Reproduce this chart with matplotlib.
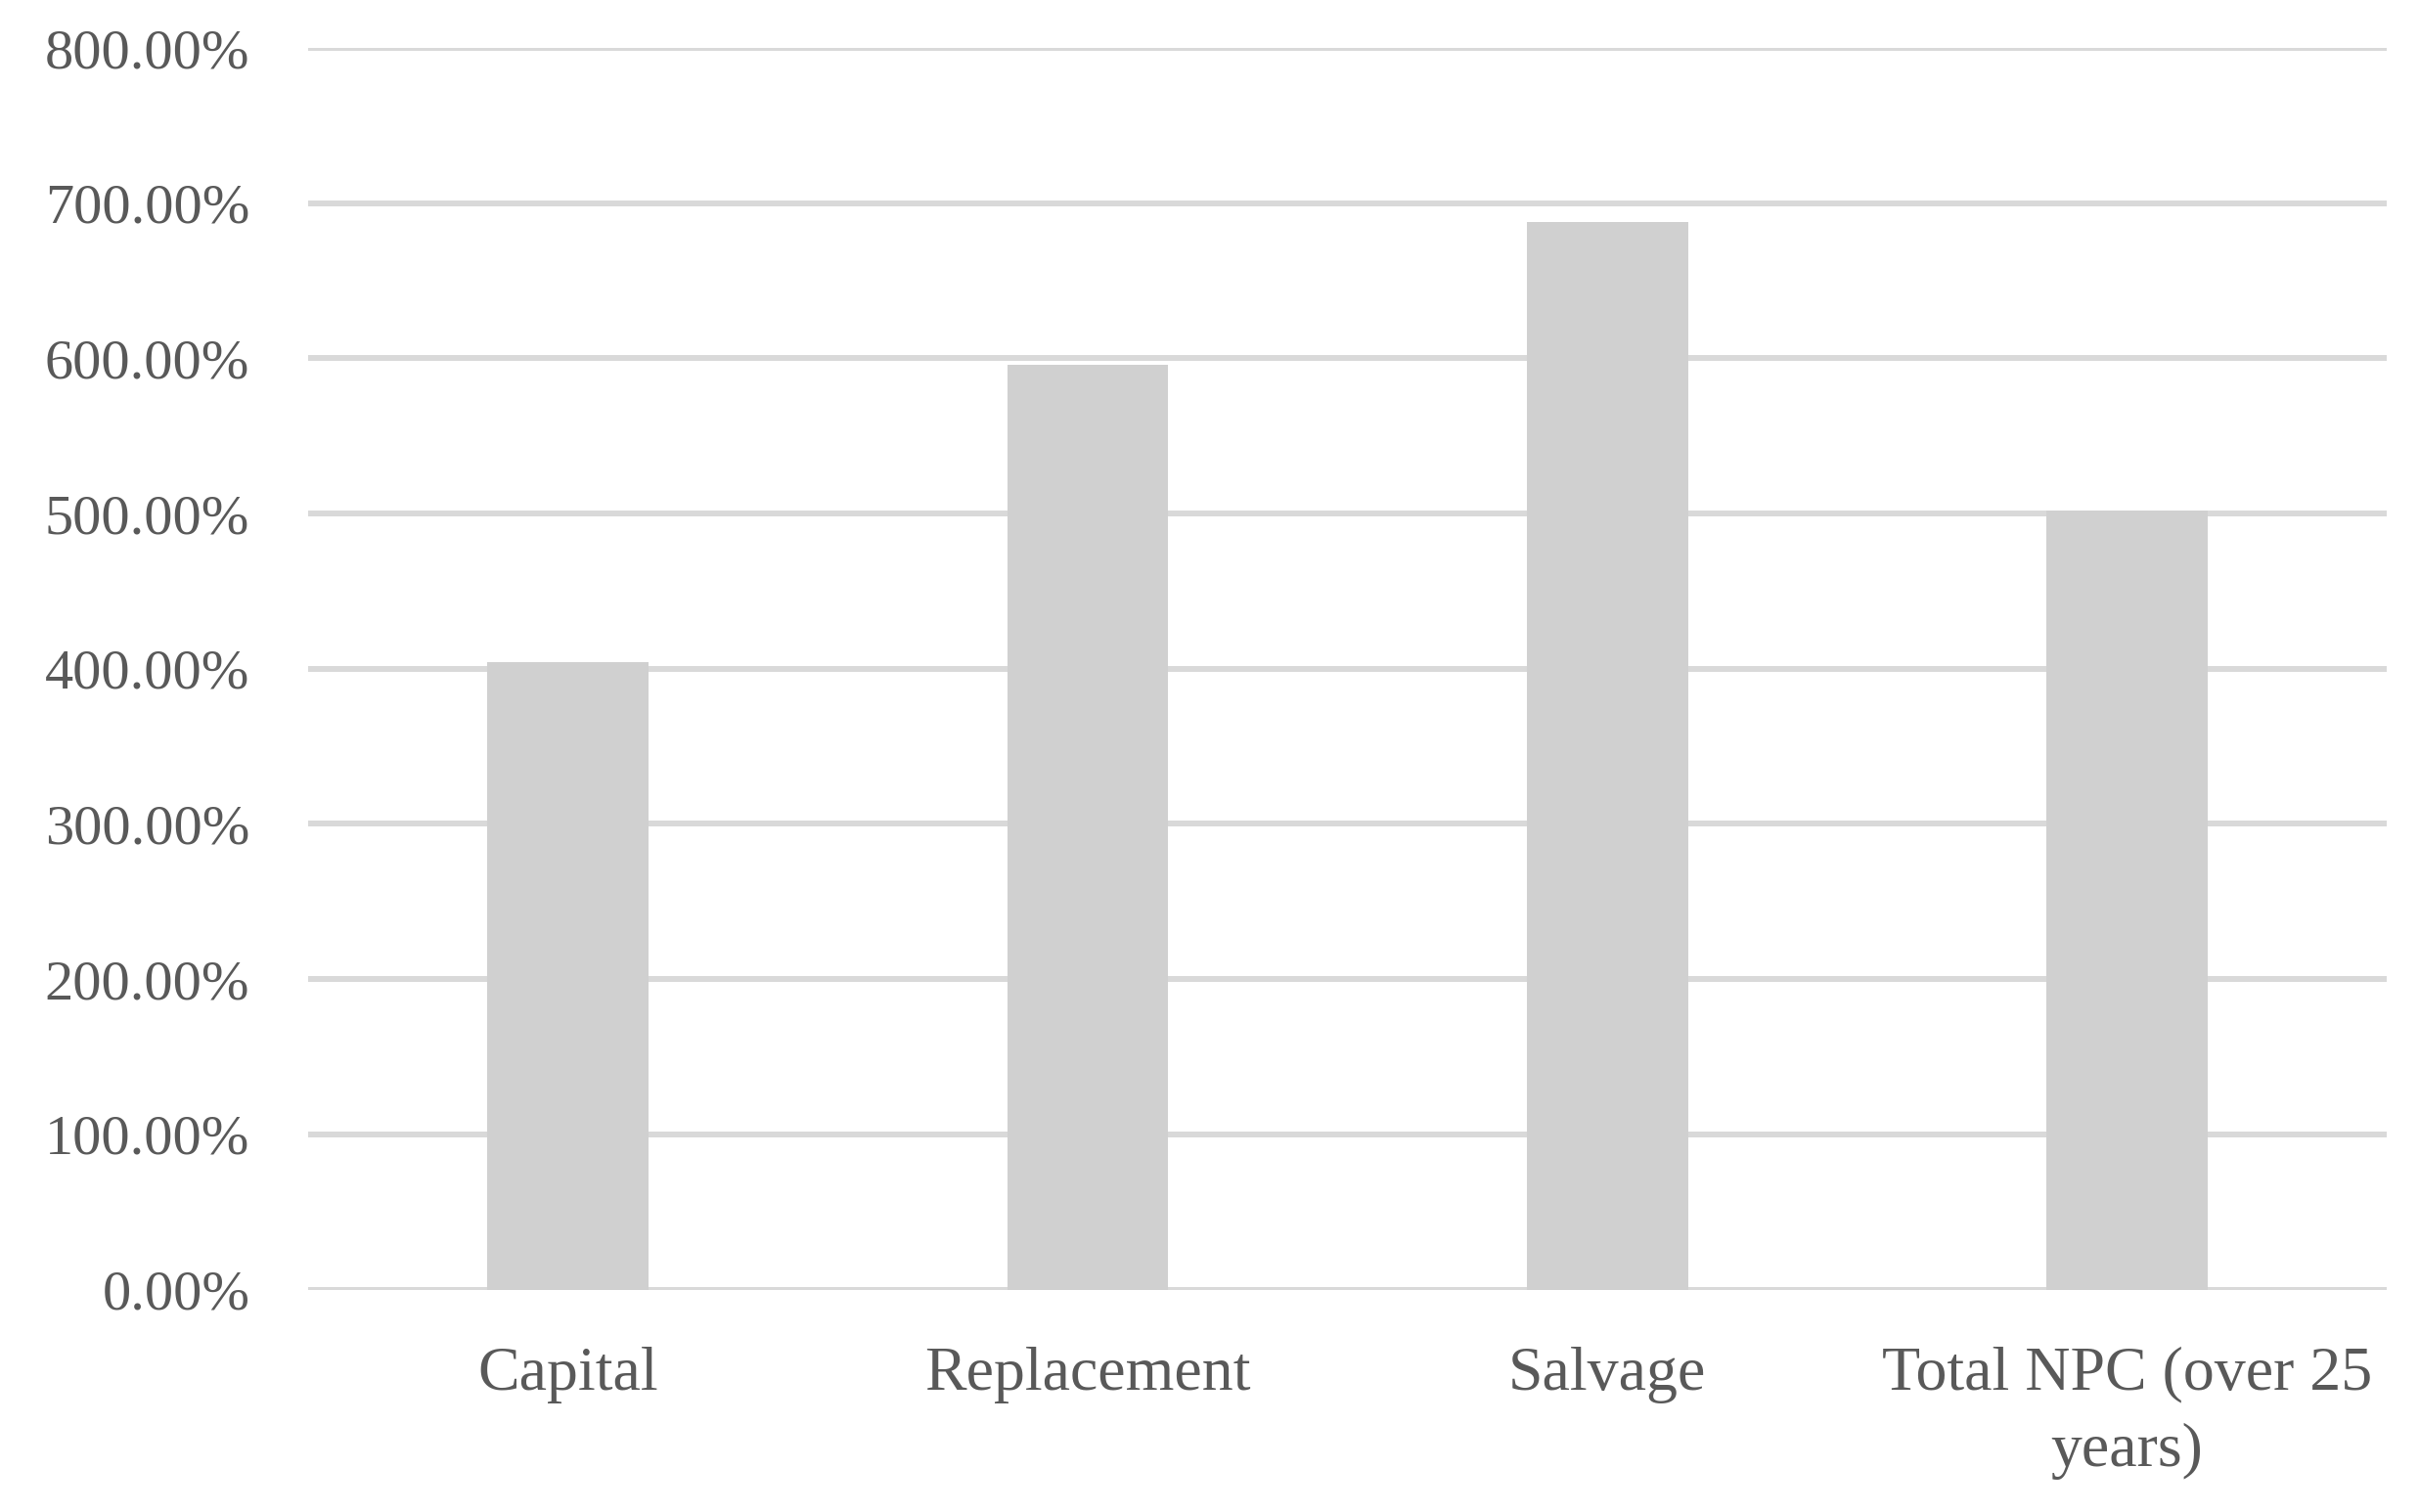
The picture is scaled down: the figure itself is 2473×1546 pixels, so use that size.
import matplotlib.pyplot as plt
from matplotlib.ticker import FuncFormatter

categories = ['Capital', 'Replacement', 'Salvage', 'Total NPC (over 25\nyears)']
values = [404.0, 596.0, 688.0, 502.0]
yticks = [0, 100, 200, 300, 400, 500, 600, 700, 800]

plt.rcParams['font.family'] = ['Liberation Serif', 'DejaVu Serif']

fig = plt.figure(figsize=(24.73, 15.46), dpi=100)
ax = fig.add_axes([0.1274, 0.1471, 0.8593, 0.8212])

x = range(len(categories))
ax.bar(x, values, width=0.31, color='#d0d0d0', zorder=3)

ax.set_xlim(-0.5, len(categories) - 0.5)
ax.set_ylim(0, 800)
ax.set_yticks(yticks)
ax.yaxis.set_major_formatter(FuncFormatter(lambda v, p: f"{v:.2f}%"))
ax.set_xticks(list(x))
ax.set_xticklabels(categories, linespacing=1.45)

ax.grid(True, axis='y', color='#d9d9d9', linewidth=4.3, zorder=0)
ax.set_axisbelow(True)
for s in ax.spines.values():
    s.set_visible(False)

ax.tick_params(axis='y', length=0, labelsize=42, labelcolor='#595959', pad=43)
ax.tick_params(axis='x', length=0, labelsize=46, labelcolor='#595959', pad=42)

fig.savefig('out.png', dpi=100)
